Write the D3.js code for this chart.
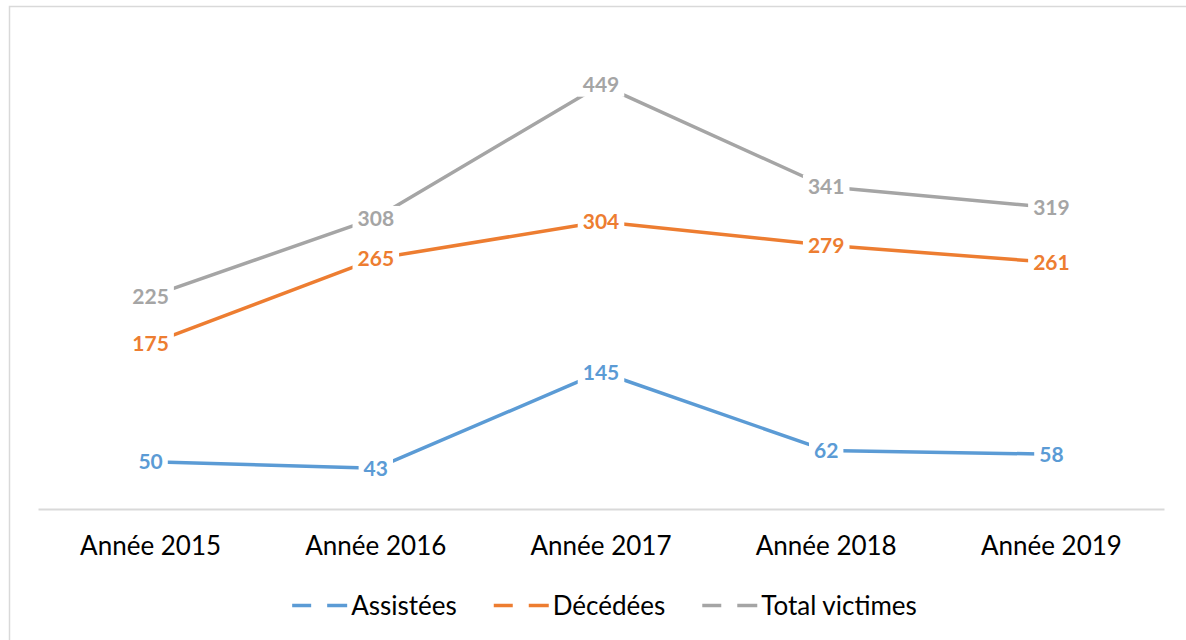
<!DOCTYPE html>
<html>
<head>
<meta charset="utf-8">
<script src="https://cdn.jsdelivr.net/npm/d3@7"></script>
<style>
  body { margin: 0; background: #fff; }
  svg { display: block; }
</style>
</head>
<body>
<svg id="chart"></svg>
<script>
// data
const years = ['Année 2015', 'Année 2016', 'Année 2017', 'Année 2018', 'Année 2019'];
const assistees = [50, 43, 145, 62, 58];
const decedees = [175, 265, 304, 279, 261];
const totalVictimes = [225, 308, 449, 341, 319];
const seriesNames = ['Assistées', 'Décédées', 'Total victimes'];

const series = [
  { name: seriesNames[0], values: assistees, color: '#5B9BD5' },
  { name: seriesNames[1], values: decedees, color: '#ED7D31' },
  { name: seriesNames[2], values: totalVictimes, color: '#A5A5A5' }
];

const W = 1186, H = 640;
const FONT = 'Lato, "Open Sans", sans-serif';

const svg = d3.select('#chart').attr('width', W).attr('height', H);

// outer chart border (right/bottom edges fall outside the picture)
svg.append('rect')
  .attr('x', 9.5).attr('y', 6.5)
  .attr('width', 1300).attr('height', 800)
  .attr('fill', '#fff')
  .attr('stroke', '#d9d9d9')
  .attr('stroke-width', 1.5);

const x = d3.scaleBand().domain(years).range([38, 1164]);
const y = d3.scaleLinear().domain([0, 500]).range([509, 36.5]);

// category axis
const xAxis = svg.append('g')
  .attr('transform', `translate(0,${y(0)})`)
  .call(d3.axisBottom(x).tickSize(0).tickPadding(28));
xAxis.select('.domain').attr('stroke', '#d9d9d9').attr('stroke-width', 2);
xAxis.selectAll('text')
  .style('font-family', FONT)
  .style('font-size', '26px')
  .style('fill', '#000');

const cx = d => x(d) + x.bandwidth() / 2;

const line = d3.line()
  .x((d, i) => cx(years[i]))
  .y(d => y(d));

// lines
svg.selectAll('.series-line')
  .data(series)
  .enter()
  .append('path')
  .attr('class', 'series-line')
  .attr('d', d => line(d.values))
  .attr('fill', 'none')
  .attr('stroke', d => d.color)
  .attr('stroke-width', 3.5)
  .attr('stroke-linejoin', 'round');

// data labels, centred on the points with a white box behind
series.forEach(s => {
  const g = svg.append('g');
  s.values.forEach((v, i) => {
    const lg = g.append('g');
    const t = lg.append('text')
      .attr('x', cx(years[i]))
      .attr('y', y(v))
      .attr('dy', '0.36em')
      .attr('text-anchor', 'middle')
      .style('font-family', FONT)
      .style('font-weight', 'bold')
      .style('font-size', '21px')
      .style('fill', s.color)
      .text(v);
    const bb = t.node().getBBox();
    lg.insert('rect', 'text')
      .attr('x', bb.x - 5).attr('y', y(v) - 12)
      .attr('width', bb.width + 10).attr('height', 24)
      .attr('fill', '#fff');
  });
});

// legend
const legend = svg.append('g');
let lx = 0;
series.forEach(s => {
  const item = legend.append('g').attr('transform', `translate(${lx},0)`);
  item.append('line')
    .attr('x1', 0).attr('x2', 19).attr('y1', 0).attr('y2', 0)
    .attr('stroke', s.color).attr('stroke-width', 3.5);
  item.append('line')
    .attr('x1', 35).attr('x2', 55).attr('y1', 0).attr('y2', 0)
    .attr('stroke', s.color).attr('stroke-width', 3.5);
  const t = item.append('text')
    .attr('x', 59).attr('y', 0).attr('dy', '0.36em')
    .style('font-family', FONT)
    .style('font-size', '26px')
    .style('fill', '#000')
    .text(s.name);
  lx += 59 + t.node().getComputedTextLength() + 37;
});
const legendWidth = lx - 37;
legend.attr('transform', `translate(${604.5 - legendWidth / 2},605.5)`);
</script>
</body>
</html>
